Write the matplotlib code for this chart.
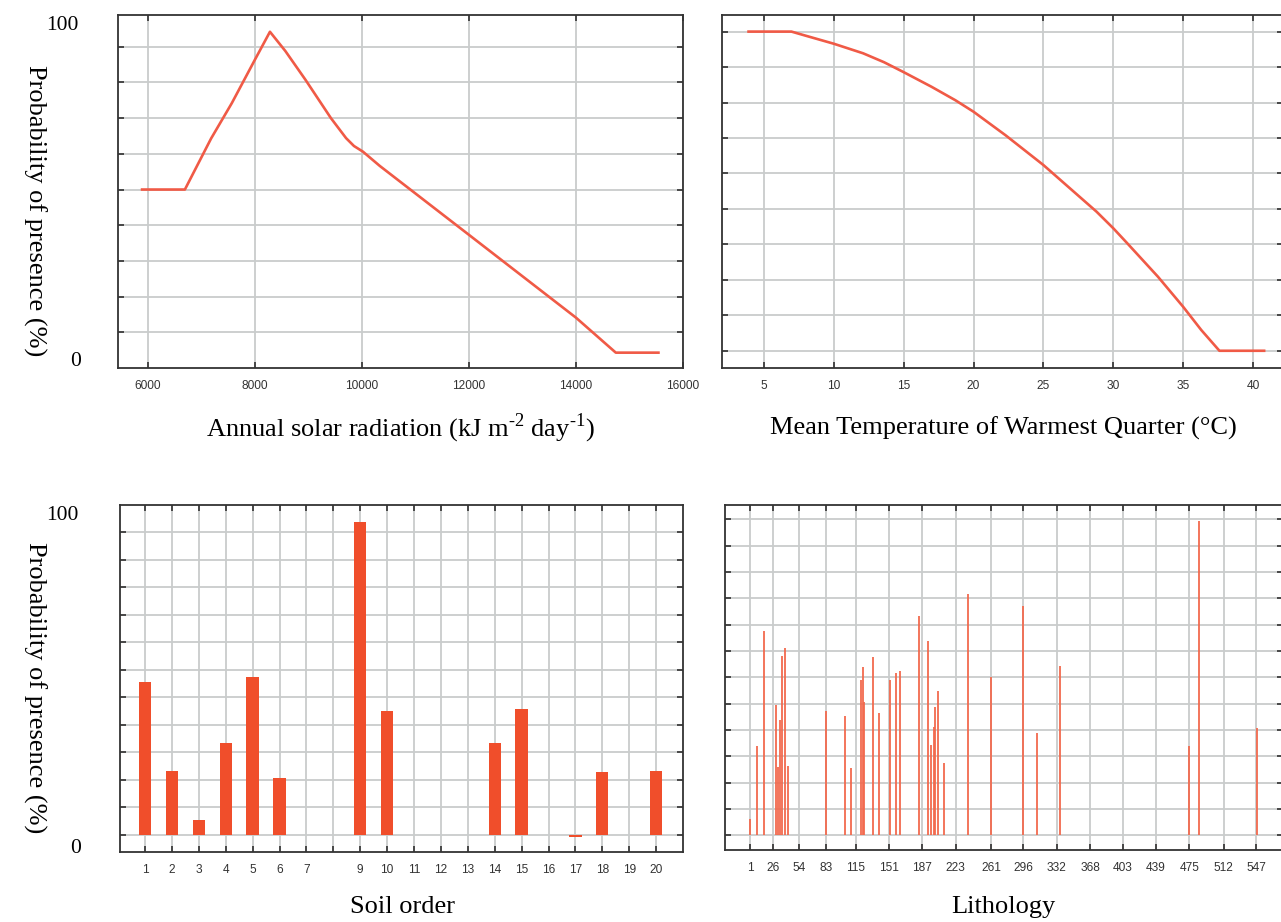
import matplotlib.pyplot as plt
import numpy as np

W, H = 1281, 922

# --- data ---
solar_x = [5890, 6690, 7180, 7567, 8000, 8280, 8568, 8946, 9420, 9703, 9850, 10019, 10334,
           12000, 14000, 14744, 15541]
solar_y = [50.0, 50.0, 64.3, 74.2, 86.4, 94.2, 88.8, 80.7, 70.0, 64.4, 62.2, 60.6, 56.6,
           37.3, 14.1, 4.3, 4.3]

temp_x = [3.9, 6.97, 8.0, 10, 12.1, 13.6, 15, 17, 18.7, 20, 22.3, 25, 26.9, 28.8, 30, 31,
          33.2, 35, 36.3, 37.6, 40.8]
temp_y = [100, 100, 98.7, 96.2, 93.2, 90.4, 87.3, 82.7, 78.5, 74.9, 67.5, 58.2, 50.9, 43.6,
          38.4, 33.7, 23.2, 13.8, 6.5, 0, 0]

soil_order = list(range(1, 21))
soil_prob = [46.2, 19.4, 4.5, 27.8, 47.8, 17.2, 0, 0, 94.9, 37.5,
             0, 0, 0, 27.8, 38.1, 0, -0.8, 19.0, 0, 19.4]
soil_labels = ['1', '2', '3', '4', '5', '6', '7', '', '9', '10',
               '11', '12', '13', '14', '15', '16', '17', '18', '19', '20']

lith_class = [1, 9, 16, 29, 31, 33, 36, 39, 42, 83, 103, 110, 121, 123, 124, 134, 140,
              152, 159, 163, 183, 193, 196, 199, 201, 204, 210, 236, 261, 295, 311, 335,
              475, 485, 548]
lith_prob = [5.1, 28.2, 64.6, 41.1, 21.5, 36.5, 56.6, 59.2, 21.8, 39.2, 37.6, 21.2, 49.2,
             53.2, 42.2, 56.3, 38.6, 49.2, 51.3, 51.9, 69.3, 61.6, 28.5, 34.2, 40.5, 45.6,
             22.8, 76.3, 50.2, 72.7, 32.5, 53.6, 28.2, 99.4, 33.9]
lith_ticks = [1, 26, 54, 83, 115, 151, 187, 223, 261, 296, 332, 368, 403, 439, 475, 512, 547]

LINE = '#f05a46'
BAR = '#f04e2b'
STEM = '#f26a4e'
TICKFONT = 'Liberation Sans'
SERIF = 'Liberation Serif'

fig = plt.figure(figsize=(W / 100, H / 100), dpi=100)
fig.patch.set_facecolor('white')


def px_axes(left, top, right, bottom):
    return fig.add_axes([left / W, 1 - bottom / H, (right - left) / W, (bottom - top) / H])


def style(ax, yticks):
    ax.set_yticks(yticks)
    ax.set_axisbelow(True)
    ax.grid(True, color='#c9cccc', linewidth=1.3)
    ax.tick_params(direction='in', length=4, width=1.1, color='#222222',
                   top=True, right=True, labelleft=False, pad=8.5,
                   labelsize=8.6, labelcolor='#333333')
    for lab in ax.get_xticklabels():
        lab.set_family(TICKFONT)
    for s in ax.spines.values():
        s.set_color('#333333')
        s.set_linewidth(1.3)


# top left: solar radiation
ax1 = px_axes(118, 15, 683, 368)
ax1.plot(solar_x, solar_y, color=LINE, linewidth=1.9)
ax1.set_xlim(5440, 16000)
ax1.set_ylim(0, 98.9)
ax1.set_xticks([6000, 8000, 10000, 12000, 14000, 16000])
style(ax1, np.arange(10, 91, 10))

# top right: temperature
ax2 = px_axes(722, 15, 1283, 368)
ax2.plot(temp_x, temp_y, color=LINE, linewidth=1.9)
ax2.set_xlim(2.0, 42.15)
ax2.set_ylim(-5.4, 105.2)
ax2.set_xticks([5, 10, 15, 20, 25, 30, 35, 40])
style(ax2, np.linspace(0, 100, 10))

# bottom left: soil order
ax3 = px_axes(120, 505, 683, 852)
ax3.bar(soil_order, soil_prob, width=0.46, color=BAR)
ax3.set_xlim(0.07, 21.0)
ax3.set_ylim(-5.25, 100)
ax3.set_xticks(soil_order)
ax3.set_xticklabels(soil_labels)
style(ax3, np.arange(12) * 100 / 12)

# bottom right: lithology
ax4 = px_axes(725, 505, 1283, 850)
ax4.vlines(lith_class, 0, lith_prob, colors=STEM, linewidth=1.3)
ax4.set_xlim(-26, 576)
ax4.set_ylim(-4.64, 104.5)
ax4.set_xticks(lith_ticks)
style(ax4, np.arange(13) * 100 / 12)

# axis titles
hy = '\u2010'
fig.text(400 / W, 1 - 428 / H,
         'Annual solar radiation (kJ m$^{\\mathregular{' + hy + '2}}$ day$^{\\mathregular{' + hy + '1}}$)',
         family=SERIF, fontsize=19, ha='center', va='center')
fig.text(1003 / W, 1 - 428 / H, 'Mean Temperature of Warmest Quarter (\u00b0C)',
         family=SERIF, fontsize=19, ha='center', va='center')
fig.text(403 / W, 1 - 907 / H, 'Soil order', family=SERIF, fontsize=19, ha='center', va='center')
fig.text(1003 / W, 1 - 907 / H, 'Lithology', family=SERIF, fontsize=19, ha='center', va='center')

for yc in (211, 688):
    fig.text(35 / W, 1 - yc / H, 'Probability of presence (%)', family=SERIF, fontsize=19,
             rotation=-90, ha='center', va='center')

for ytop, ybot in ((25, 361), (515, 848)):
    fig.text(79 / W, 1 - ytop / H, '100', family=SERIF, fontsize=15.5, ha='right', va='center')
    fig.text(81 / W, 1 - ybot / H, '0', family=SERIF, fontsize=15.5, ha='right', va='center')

fig.savefig('out.png', dpi=100, facecolor='white')
